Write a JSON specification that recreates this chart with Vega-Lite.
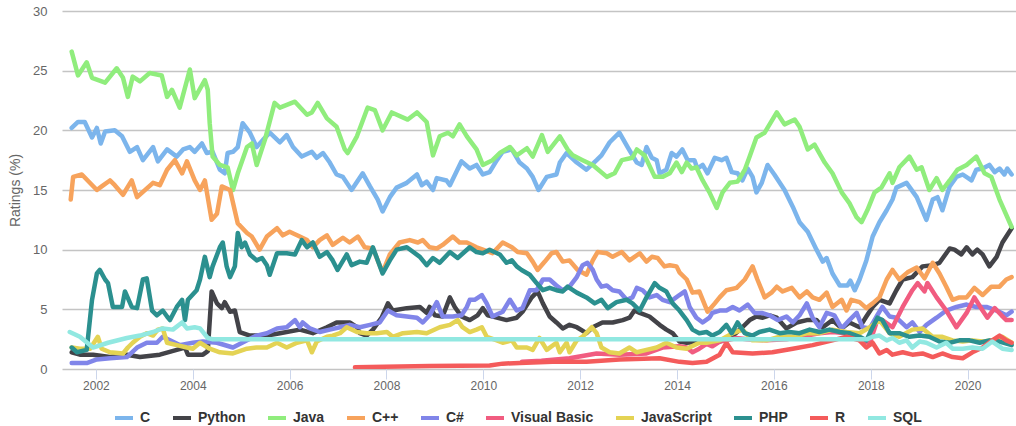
{
"$schema": "https://vega.github.io/schema/vega-lite/v6.json",
"width": 954, "height": 358,
"autosize": {"type": "none"},
"padding": {"left": 62, "top": 11, "right": 0, "bottom": 57},
"background": "white",
"config": {"view": {"stroke": null}, "font": "Liberation Sans"},
"data": {"values": [
{"l":"C","t":2001.50,"v":20.2},{"l":"C","t":2001.63,"v":20.7},{"l":"C","t":2001.77,"v":20.7},{"l":"C","t":2001.92,"v":19.4},{"l":"C","t":2002.02,"v":20.2},{"l":"C","t":2002.10,"v":18.9},{"l":"C","t":2002.19,"v":19.9},{"l":"C","t":2002.39,"v":20.0},{"l":"C","t":2002.54,"v":19.5},{"l":"C","t":2002.70,"v":18.2},{"l":"C","t":2002.85,"v":18.6},{"l":"C","t":2002.97,"v":17.5},{"l":"C","t":2003.18,"v":18.6},{"l":"C","t":2003.28,"v":17.4},{"l":"C","t":2003.47,"v":18.4},{"l":"C","t":2003.67,"v":17.8},{"l":"C","t":2003.80,"v":18.4},{"l":"C","t":2003.94,"v":18.6},{"l":"C","t":2004.04,"v":18.2},{"l":"C","t":2004.19,"v":18.9},{"l":"C","t":2004.29,"v":18.1},{"l":"C","t":2004.41,"v":18.2},{"l":"C","t":2004.56,"v":16.7},{"l":"C","t":2004.66,"v":16.4},{"l":"C","t":2004.72,"v":18.1},{"l":"C","t":2004.83,"v":18.2},{"l":"C","t":2004.93,"v":18.6},{"l":"C","t":2005.03,"v":20.6},{"l":"C","t":2005.18,"v":19.8},{"l":"C","t":2005.32,"v":18.6},{"l":"C","t":2005.45,"v":19.2},{"l":"C","t":2005.59,"v":19.8},{"l":"C","t":2005.80,"v":19.0},{"l":"C","t":2005.94,"v":19.6},{"l":"C","t":2006.07,"v":18.6},{"l":"C","t":2006.25,"v":17.8},{"l":"C","t":2006.46,"v":18.2},{"l":"C","t":2006.56,"v":17.7},{"l":"C","t":2006.69,"v":18.1},{"l":"C","t":2006.83,"v":17.3},{"l":"C","t":2006.97,"v":16.3},{"l":"C","t":2007.10,"v":16.1},{"l":"C","t":2007.28,"v":15.0},{"l":"C","t":2007.51,"v":16.4},{"l":"C","t":2007.66,"v":15.3},{"l":"C","t":2007.82,"v":14.2},{"l":"C","t":2007.92,"v":13.2},{"l":"C","t":2008.07,"v":14.4},{"l":"C","t":2008.21,"v":15.2},{"l":"C","t":2008.42,"v":15.6},{"l":"C","t":2008.63,"v":16.3},{"l":"C","t":2008.73,"v":15.4},{"l":"C","t":2008.83,"v":15.7},{"l":"C","t":2008.96,"v":15.0},{"l":"C","t":2009.04,"v":16.0},{"l":"C","t":2009.24,"v":15.8},{"l":"C","t":2009.31,"v":15.4},{"l":"C","t":2009.55,"v":17.4},{"l":"C","t":2009.72,"v":16.8},{"l":"C","t":2009.86,"v":17.1},{"l":"C","t":2009.99,"v":16.3},{"l":"C","t":2010.13,"v":16.5},{"l":"C","t":2010.28,"v":17.5},{"l":"C","t":2010.40,"v":18.2},{"l":"C","t":2010.59,"v":18.4},{"l":"C","t":2010.75,"v":17.3},{"l":"C","t":2010.90,"v":16.8},{"l":"C","t":2011.02,"v":16.1},{"l":"C","t":2011.14,"v":15.0},{"l":"C","t":2011.31,"v":16.1},{"l":"C","t":2011.51,"v":16.3},{"l":"C","t":2011.58,"v":17.3},{"l":"C","t":2011.72,"v":18.1},{"l":"C","t":2011.93,"v":17.3},{"l":"C","t":2012.13,"v":16.7},{"l":"C","t":2012.34,"v":17.5},{"l":"C","t":2012.44,"v":17.9},{"l":"C","t":2012.61,"v":19.0},{"l":"C","t":2012.81,"v":19.8},{"l":"C","t":2012.98,"v":18.6},{"l":"C","t":2013.17,"v":17.3},{"l":"C","t":2013.27,"v":17.1},{"l":"C","t":2013.37,"v":18.6},{"l":"C","t":2013.48,"v":17.7},{"l":"C","t":2013.58,"v":17.5},{"l":"C","t":2013.64,"v":16.4},{"l":"C","t":2013.78,"v":16.7},{"l":"C","t":2013.89,"v":18.1},{"l":"C","t":2013.99,"v":17.8},{"l":"C","t":2014.11,"v":18.4},{"l":"C","t":2014.22,"v":17.5},{"l":"C","t":2014.36,"v":17.5},{"l":"C","t":2014.42,"v":16.8},{"l":"C","t":2014.53,"v":17.1},{"l":"C","t":2014.63,"v":16.4},{"l":"C","t":2014.78,"v":17.7},{"l":"C","t":2014.92,"v":17.5},{"l":"C","t":2015.02,"v":17.7},{"l":"C","t":2015.13,"v":16.5},{"l":"C","t":2015.25,"v":16.4},{"l":"C","t":2015.35,"v":15.8},{"l":"C","t":2015.46,"v":16.8},{"l":"C","t":2015.56,"v":16.1},{"l":"C","t":2015.64,"v":14.8},{"l":"C","t":2015.75,"v":15.6},{"l":"C","t":2015.87,"v":17.1},{"l":"C","t":2016.01,"v":16.3},{"l":"C","t":2016.22,"v":15.0},{"l":"C","t":2016.39,"v":13.6},{"l":"C","t":2016.53,"v":12.3},{"l":"C","t":2016.70,"v":11.5},{"l":"C","t":2016.88,"v":10.0},{"l":"C","t":2017.01,"v":9.0},{"l":"C","t":2017.09,"v":9.3},{"l":"C","t":2017.21,"v":8.0},{"l":"C","t":2017.36,"v":7.0},{"l":"C","t":2017.52,"v":7.0},{"l":"C","t":2017.58,"v":7.4},{"l":"C","t":2017.67,"v":6.6},{"l":"C","t":2017.77,"v":7.5},{"l":"C","t":2017.91,"v":9.1},{"l":"C","t":2018.04,"v":11.1},{"l":"C","t":2018.18,"v":12.3},{"l":"C","t":2018.33,"v":13.3},{"l":"C","t":2018.45,"v":14.2},{"l":"C","t":2018.53,"v":15.2},{"l":"C","t":2018.74,"v":15.6},{"l":"C","t":2018.95,"v":14.4},{"l":"C","t":2019.15,"v":12.5},{"l":"C","t":2019.28,"v":14.2},{"l":"C","t":2019.38,"v":14.4},{"l":"C","t":2019.48,"v":13.3},{"l":"C","t":2019.63,"v":15.3},{"l":"C","t":2019.77,"v":16.1},{"l":"C","t":2019.90,"v":16.3},{"l":"C","t":2020.08,"v":15.8},{"l":"C","t":2020.18,"v":16.7},{"l":"C","t":2020.31,"v":16.8},{"l":"C","t":2020.45,"v":17.1},{"l":"C","t":2020.56,"v":16.5},{"l":"C","t":2020.66,"v":16.8},{"l":"C","t":2020.76,"v":16.3},{"l":"C","t":2020.82,"v":16.8},{"l":"C","t":2020.91,"v":16.3},
{"l":"Python","t":2001.50,"v":1.4},{"l":"Python","t":2001.67,"v":1.2},{"l":"Python","t":2001.94,"v":1.2},{"l":"Python","t":2002.29,"v":1.0},{"l":"Python","t":2002.64,"v":1.2},{"l":"Python","t":2002.91,"v":1.0},{"l":"Python","t":2003.32,"v":1.2},{"l":"Python","t":2003.67,"v":1.6},{"l":"Python","t":2003.84,"v":1.8},{"l":"Python","t":2003.90,"v":1.2},{"l":"Python","t":2004.21,"v":1.2},{"l":"Python","t":2004.31,"v":1.5},{"l":"Python","t":2004.39,"v":6.5},{"l":"Python","t":2004.50,"v":5.5},{"l":"Python","t":2004.60,"v":5.1},{"l":"Python","t":2004.66,"v":5.6},{"l":"Python","t":2004.77,"v":4.8},{"l":"Python","t":2004.87,"v":4.9},{"l":"Python","t":2004.97,"v":3.1},{"l":"Python","t":2005.18,"v":2.8},{"l":"Python","t":2005.53,"v":2.8},{"l":"Python","t":2005.80,"v":3.0},{"l":"Python","t":2006.21,"v":3.3},{"l":"Python","t":2006.48,"v":3.0},{"l":"Python","t":2006.77,"v":3.5},{"l":"Python","t":2006.97,"v":3.9},{"l":"Python","t":2007.24,"v":3.9},{"l":"Python","t":2007.39,"v":3.5},{"l":"Python","t":2007.45,"v":3.0},{"l":"Python","t":2007.59,"v":2.8},{"l":"Python","t":2007.72,"v":3.3},{"l":"Python","t":2007.90,"v":4.3},{"l":"Python","t":2008.03,"v":5.5},{"l":"Python","t":2008.13,"v":4.9},{"l":"Python","t":2008.42,"v":5.1},{"l":"Python","t":2008.69,"v":5.2},{"l":"Python","t":2008.83,"v":4.7},{"l":"Python","t":2008.89,"v":5.2},{"l":"Python","t":2009.00,"v":4.5},{"l":"Python","t":2009.16,"v":4.4},{"l":"Python","t":2009.31,"v":6.0},{"l":"Python","t":2009.41,"v":5.2},{"l":"Python","t":2009.55,"v":4.4},{"l":"Python","t":2009.72,"v":4.1},{"l":"Python","t":2009.88,"v":4.5},{"l":"Python","t":2009.99,"v":5.1},{"l":"Python","t":2010.09,"v":4.5},{"l":"Python","t":2010.28,"v":4.3},{"l":"Python","t":2010.48,"v":4.1},{"l":"Python","t":2010.69,"v":4.3},{"l":"Python","t":2010.81,"v":4.8},{"l":"Python","t":2011.00,"v":6.0},{"l":"Python","t":2011.12,"v":6.5},{"l":"Python","t":2011.23,"v":5.5},{"l":"Python","t":2011.37,"v":4.4},{"l":"Python","t":2011.51,"v":3.9},{"l":"Python","t":2011.64,"v":3.4},{"l":"Python","t":2011.78,"v":3.7},{"l":"Python","t":2011.93,"v":3.5},{"l":"Python","t":2012.13,"v":3.0},{"l":"Python","t":2012.26,"v":3.5},{"l":"Python","t":2012.46,"v":3.9},{"l":"Python","t":2012.67,"v":3.9},{"l":"Python","t":2012.88,"v":4.1},{"l":"Python","t":2013.02,"v":4.3},{"l":"Python","t":2013.12,"v":4.9},{"l":"Python","t":2013.23,"v":4.7},{"l":"Python","t":2013.43,"v":4.4},{"l":"Python","t":2013.64,"v":3.7},{"l":"Python","t":2013.78,"v":3.3},{"l":"Python","t":2013.91,"v":3.0},{"l":"Python","t":2014.05,"v":2.3},{"l":"Python","t":2014.20,"v":2.2},{"l":"Python","t":2014.50,"v":2.3},{"l":"Python","t":2014.80,"v":2.2},{"l":"Python","t":2015.10,"v":2.6},{"l":"Python","t":2015.35,"v":3.5},{"l":"Python","t":2015.50,"v":4.1},{"l":"Python","t":2015.64,"v":4.4},{"l":"Python","t":2015.77,"v":4.3},{"l":"Python","t":2015.91,"v":4.5},{"l":"Python","t":2016.06,"v":4.3},{"l":"Python","t":2016.26,"v":3.4},{"l":"Python","t":2016.47,"v":3.9},{"l":"Python","t":2016.68,"v":4.1},{"l":"Python","t":2016.88,"v":4.1},{"l":"Python","t":2017.01,"v":3.5},{"l":"Python","t":2017.21,"v":4.1},{"l":"Python","t":2017.40,"v":3.4},{"l":"Python","t":2017.56,"v":3.9},{"l":"Python","t":2017.77,"v":3.5},{"l":"Python","t":2017.91,"v":4.4},{"l":"Python","t":2018.04,"v":5.2},{"l":"Python","t":2018.18,"v":5.8},{"l":"Python","t":2018.39,"v":5.5},{"l":"Python","t":2018.53,"v":6.6},{"l":"Python","t":2018.66,"v":7.5},{"l":"Python","t":2018.86,"v":7.7},{"l":"Python","t":2019.07,"v":8.6},{"l":"Python","t":2019.28,"v":8.7},{"l":"Python","t":2019.42,"v":8.9},{"l":"Python","t":2019.56,"v":9.7},{"l":"Python","t":2019.63,"v":10.1},{"l":"Python","t":2019.73,"v":10.0},{"l":"Python","t":2019.87,"v":9.6},{"l":"Python","t":2019.98,"v":10.2},{"l":"Python","t":2020.10,"v":9.6},{"l":"Python","t":2020.20,"v":10.0},{"l":"Python","t":2020.31,"v":9.6},{"l":"Python","t":2020.45,"v":8.6},{"l":"Python","t":2020.60,"v":9.4},{"l":"Python","t":2020.72,"v":10.6},{"l":"Python","t":2020.91,"v":11.8},
{"l":"Java","t":2001.50,"v":26.6},{"l":"Java","t":2001.63,"v":24.6},{"l":"Java","t":2001.81,"v":25.7},{"l":"Java","t":2001.92,"v":24.4},{"l":"Java","t":2002.19,"v":24.0},{"l":"Java","t":2002.43,"v":25.2},{"l":"Java","t":2002.56,"v":24.4},{"l":"Java","t":2002.66,"v":22.8},{"l":"Java","t":2002.76,"v":24.5},{"l":"Java","t":2002.91,"v":24.1},{"l":"Java","t":2003.11,"v":24.8},{"l":"Java","t":2003.36,"v":24.6},{"l":"Java","t":2003.47,"v":22.8},{"l":"Java","t":2003.57,"v":23.4},{"l":"Java","t":2003.73,"v":21.9},{"l":"Java","t":2003.94,"v":25.1},{"l":"Java","t":2004.04,"v":22.7},{"l":"Java","t":2004.25,"v":24.2},{"l":"Java","t":2004.31,"v":23.4},{"l":"Java","t":2004.35,"v":20.6},{"l":"Java","t":2004.41,"v":17.8},{"l":"Java","t":2004.56,"v":17.1},{"l":"Java","t":2004.72,"v":16.9},{"l":"Java","t":2004.83,"v":15.0},{"l":"Java","t":2004.93,"v":16.4},{"l":"Java","t":2005.12,"v":18.6},{"l":"Java","t":2005.22,"v":18.9},{"l":"Java","t":2005.32,"v":17.1},{"l":"Java","t":2005.49,"v":19.2},{"l":"Java","t":2005.69,"v":22.3},{"l":"Java","t":2005.80,"v":21.9},{"l":"Java","t":2006.11,"v":22.4},{"l":"Java","t":2006.36,"v":21.3},{"l":"Java","t":2006.46,"v":21.5},{"l":"Java","t":2006.58,"v":22.3},{"l":"Java","t":2006.77,"v":21.0},{"l":"Java","t":2006.97,"v":20.3},{"l":"Java","t":2007.14,"v":18.4},{"l":"Java","t":2007.20,"v":18.1},{"l":"Java","t":2007.39,"v":19.5},{"l":"Java","t":2007.61,"v":21.9},{"l":"Java","t":2007.76,"v":21.7},{"l":"Java","t":2007.92,"v":20.0},{"l":"Java","t":2008.11,"v":21.5},{"l":"Java","t":2008.44,"v":20.9},{"l":"Java","t":2008.63,"v":21.5},{"l":"Java","t":2008.83,"v":20.7},{"l":"Java","t":2008.96,"v":17.9},{"l":"Java","t":2009.10,"v":19.5},{"l":"Java","t":2009.27,"v":19.8},{"l":"Java","t":2009.37,"v":19.5},{"l":"Java","t":2009.51,"v":20.5},{"l":"Java","t":2009.66,"v":19.5},{"l":"Java","t":2009.86,"v":18.4},{"l":"Java","t":2009.99,"v":17.1},{"l":"Java","t":2010.19,"v":17.5},{"l":"Java","t":2010.34,"v":18.1},{"l":"Java","t":2010.55,"v":18.6},{"l":"Java","t":2010.69,"v":17.9},{"l":"Java","t":2010.90,"v":18.5},{"l":"Java","t":2011.02,"v":17.8},{"l":"Java","t":2011.21,"v":19.6},{"l":"Java","t":2011.33,"v":18.2},{"l":"Java","t":2011.58,"v":19.5},{"l":"Java","t":2011.74,"v":18.4},{"l":"Java","t":2011.85,"v":17.9},{"l":"Java","t":2012.05,"v":17.5},{"l":"Java","t":2012.26,"v":17.1},{"l":"Java","t":2012.55,"v":16.1},{"l":"Java","t":2012.71,"v":16.4},{"l":"Java","t":2012.86,"v":17.5},{"l":"Java","t":2013.08,"v":17.7},{"l":"Java","t":2013.17,"v":18.4},{"l":"Java","t":2013.33,"v":17.9},{"l":"Java","t":2013.54,"v":16.1},{"l":"Java","t":2013.70,"v":16.1},{"l":"Java","t":2013.85,"v":16.4},{"l":"Java","t":2013.99,"v":17.3},{"l":"Java","t":2014.10,"v":16.5},{"l":"Java","t":2014.20,"v":17.3},{"l":"Java","t":2014.30,"v":16.8},{"l":"Java","t":2014.40,"v":16.9},{"l":"Java","t":2014.53,"v":15.8},{"l":"Java","t":2014.67,"v":14.8},{"l":"Java","t":2014.82,"v":13.5},{"l":"Java","t":2014.94,"v":14.8},{"l":"Java","t":2015.09,"v":15.6},{"l":"Java","t":2015.25,"v":15.7},{"l":"Java","t":2015.40,"v":16.7},{"l":"Java","t":2015.50,"v":17.8},{"l":"Java","t":2015.64,"v":19.4},{"l":"Java","t":2015.81,"v":19.8},{"l":"Java","t":2016.06,"v":21.5},{"l":"Java","t":2016.22,"v":20.5},{"l":"Java","t":2016.43,"v":20.9},{"l":"Java","t":2016.53,"v":20.3},{"l":"Java","t":2016.70,"v":18.4},{"l":"Java","t":2016.84,"v":18.8},{"l":"Java","t":2017.05,"v":17.3},{"l":"Java","t":2017.21,"v":16.4},{"l":"Java","t":2017.40,"v":14.8},{"l":"Java","t":2017.56,"v":13.9},{"l":"Java","t":2017.71,"v":12.7},{"l":"Java","t":2017.81,"v":12.3},{"l":"Java","t":2017.93,"v":13.3},{"l":"Java","t":2018.08,"v":14.8},{"l":"Java","t":2018.22,"v":15.2},{"l":"Java","t":2018.39,"v":16.4},{"l":"Java","t":2018.45,"v":15.6},{"l":"Java","t":2018.59,"v":16.9},{"l":"Java","t":2018.80,"v":17.8},{"l":"Java","t":2018.95,"v":16.7},{"l":"Java","t":2019.05,"v":16.9},{"l":"Java","t":2019.21,"v":15.0},{"l":"Java","t":2019.36,"v":16.0},{"l":"Java","t":2019.48,"v":15.0},{"l":"Java","t":2019.63,"v":15.8},{"l":"Java","t":2019.79,"v":16.7},{"l":"Java","t":2019.98,"v":17.1},{"l":"Java","t":2020.18,"v":17.8},{"l":"Java","t":2020.35,"v":16.4},{"l":"Java","t":2020.49,"v":16.1},{"l":"Java","t":2020.66,"v":14.2},{"l":"Java","t":2020.91,"v":11.9},
{"l":"C++","t":2001.48,"v":14.2},{"l":"C++","t":2001.53,"v":16.1},{"l":"C++","t":2001.71,"v":16.3},{"l":"C++","t":2001.83,"v":15.8},{"l":"C++","t":2002.02,"v":15.0},{"l":"C++","t":2002.12,"v":15.3},{"l":"C++","t":2002.29,"v":15.8},{"l":"C++","t":2002.39,"v":15.4},{"l":"C++","t":2002.56,"v":14.6},{"l":"C++","t":2002.74,"v":15.8},{"l":"C++","t":2002.85,"v":14.4},{"l":"C++","t":2003.18,"v":15.6},{"l":"C++","t":2003.32,"v":15.4},{"l":"C++","t":2003.47,"v":16.7},{"l":"C++","t":2003.63,"v":17.5},{"l":"C++","t":2003.78,"v":16.4},{"l":"C++","t":2003.88,"v":17.4},{"l":"C++","t":2004.04,"v":15.8},{"l":"C++","t":2004.15,"v":15.0},{"l":"C++","t":2004.25,"v":15.8},{"l":"C++","t":2004.39,"v":12.5},{"l":"C++","t":2004.50,"v":13.0},{"l":"C++","t":2004.60,"v":15.3},{"l":"C++","t":2004.77,"v":15.0},{"l":"C++","t":2004.93,"v":12.2},{"l":"C++","t":2005.12,"v":11.4},{"l":"C++","t":2005.22,"v":11.1},{"l":"C++","t":2005.38,"v":10.0},{"l":"C++","t":2005.53,"v":11.1},{"l":"C++","t":2005.74,"v":11.8},{"l":"C++","t":2005.86,"v":11.2},{"l":"C++","t":2006.00,"v":11.5},{"l":"C++","t":2006.21,"v":11.1},{"l":"C++","t":2006.36,"v":10.8},{"l":"C++","t":2006.48,"v":10.2},{"l":"C++","t":2006.62,"v":10.8},{"l":"C++","t":2006.77,"v":11.2},{"l":"C++","t":2006.89,"v":10.4},{"l":"C++","t":2007.10,"v":11.0},{"l":"C++","t":2007.24,"v":10.6},{"l":"C++","t":2007.41,"v":11.1},{"l":"C++","t":2007.55,"v":10.2},{"l":"C++","t":2007.72,"v":10.1},{"l":"C++","t":2007.80,"v":9.3},{"l":"C++","t":2007.92,"v":8.1},{"l":"C++","t":2008.07,"v":9.6},{"l":"C++","t":2008.27,"v":10.6},{"l":"C++","t":2008.48,"v":10.8},{"l":"C++","t":2008.65,"v":10.6},{"l":"C++","t":2008.75,"v":10.8},{"l":"C++","t":2008.89,"v":10.2},{"l":"C++","t":2009.04,"v":10.1},{"l":"C++","t":2009.16,"v":10.4},{"l":"C++","t":2009.37,"v":11.1},{"l":"C++","t":2009.51,"v":10.6},{"l":"C++","t":2009.66,"v":10.6},{"l":"C++","t":2009.86,"v":10.2},{"l":"C++","t":2009.99,"v":10.0},{"l":"C++","t":2010.19,"v":9.7},{"l":"C++","t":2010.40,"v":10.6},{"l":"C++","t":2010.59,"v":10.2},{"l":"C++","t":2010.71,"v":9.8},{"l":"C++","t":2010.90,"v":9.7},{"l":"C++","t":2011.02,"v":9.0},{"l":"C++","t":2011.12,"v":8.3},{"l":"C++","t":2011.27,"v":9.0},{"l":"C++","t":2011.41,"v":9.7},{"l":"C++","t":2011.51,"v":9.8},{"l":"C++","t":2011.64,"v":9.0},{"l":"C++","t":2011.78,"v":9.1},{"l":"C++","t":2011.95,"v":8.3},{"l":"C++","t":2012.13,"v":7.9},{"l":"C++","t":2012.26,"v":9.1},{"l":"C++","t":2012.36,"v":9.8},{"l":"C++","t":2012.55,"v":9.7},{"l":"C++","t":2012.67,"v":9.4},{"l":"C++","t":2012.86,"v":9.8},{"l":"C++","t":2013.02,"v":9.1},{"l":"C++","t":2013.23,"v":9.7},{"l":"C++","t":2013.37,"v":9.0},{"l":"C++","t":2013.48,"v":9.4},{"l":"C++","t":2013.60,"v":9.3},{"l":"C++","t":2013.74,"v":8.6},{"l":"C++","t":2013.85,"v":8.7},{"l":"C++","t":2013.99,"v":8.6},{"l":"C++","t":2014.05,"v":8.1},{"l":"C++","t":2014.20,"v":7.5},{"l":"C++","t":2014.32,"v":6.4},{"l":"C++","t":2014.46,"v":6.5},{"l":"C++","t":2014.63,"v":4.8},{"l":"C++","t":2014.78,"v":5.5},{"l":"C++","t":2014.88,"v":6.0},{"l":"C++","t":2015.02,"v":6.6},{"l":"C++","t":2015.23,"v":6.8},{"l":"C++","t":2015.40,"v":7.5},{"l":"C++","t":2015.56,"v":8.6},{"l":"C++","t":2015.66,"v":7.5},{"l":"C++","t":2015.81,"v":6.0},{"l":"C++","t":2015.95,"v":6.4},{"l":"C++","t":2016.06,"v":6.9},{"l":"C++","t":2016.18,"v":6.5},{"l":"C++","t":2016.37,"v":6.8},{"l":"C++","t":2016.53,"v":6.0},{"l":"C++","t":2016.68,"v":6.5},{"l":"C++","t":2016.80,"v":6.0},{"l":"C++","t":2016.94,"v":5.8},{"l":"C++","t":2017.09,"v":6.4},{"l":"C++","t":2017.21,"v":5.2},{"l":"C++","t":2017.40,"v":5.8},{"l":"C++","t":2017.50,"v":4.9},{"l":"C++","t":2017.60,"v":5.8},{"l":"C++","t":2017.77,"v":5.6},{"l":"C++","t":2017.91,"v":5.1},{"l":"C++","t":2018.04,"v":5.5},{"l":"C++","t":2018.18,"v":6.0},{"l":"C++","t":2018.33,"v":7.5},{"l":"C++","t":2018.45,"v":8.3},{"l":"C++","t":2018.59,"v":7.5},{"l":"C++","t":2018.76,"v":8.1},{"l":"C++","t":2018.95,"v":8.5},{"l":"C++","t":2019.11,"v":7.6},{"l":"C++","t":2019.28,"v":8.9},{"l":"C++","t":2019.42,"v":8.0},{"l":"C++","t":2019.56,"v":6.9},{"l":"C++","t":2019.69,"v":5.8},{"l":"C++","t":2019.83,"v":6.0},{"l":"C++","t":2019.98,"v":6.0},{"l":"C++","t":2020.14,"v":6.8},{"l":"C++","t":2020.31,"v":6.2},{"l":"C++","t":2020.49,"v":6.9},{"l":"C++","t":2020.66,"v":6.9},{"l":"C++","t":2020.80,"v":7.5},{"l":"C++","t":2020.91,"v":7.7},
{"l":"C#","t":2001.50,"v":0.5},{"l":"C#","t":2001.81,"v":0.5},{"l":"C#","t":2002.02,"v":0.8},{"l":"C#","t":2002.29,"v":0.9},{"l":"C#","t":2002.64,"v":1.0},{"l":"C#","t":2002.85,"v":1.8},{"l":"C#","t":2003.05,"v":2.2},{"l":"C#","t":2003.26,"v":2.2},{"l":"C#","t":2003.38,"v":2.7},{"l":"C#","t":2003.53,"v":2.4},{"l":"C#","t":2003.73,"v":2.0},{"l":"C#","t":2004.00,"v":2.2},{"l":"C#","t":2004.21,"v":2.3},{"l":"C#","t":2004.50,"v":2.2},{"l":"C#","t":2004.83,"v":1.8},{"l":"C#","t":2005.12,"v":2.4},{"l":"C#","t":2005.32,"v":2.8},{"l":"C#","t":2005.53,"v":3.0},{"l":"C#","t":2005.74,"v":3.4},{"l":"C#","t":2005.94,"v":3.5},{"l":"C#","t":2006.11,"v":4.1},{"l":"C#","t":2006.21,"v":3.5},{"l":"C#","t":2006.27,"v":3.9},{"l":"C#","t":2006.42,"v":3.4},{"l":"C#","t":2006.62,"v":3.1},{"l":"C#","t":2006.83,"v":3.3},{"l":"C#","t":2007.04,"v":3.5},{"l":"C#","t":2007.24,"v":3.7},{"l":"C#","t":2007.45,"v":3.5},{"l":"C#","t":2007.66,"v":3.7},{"l":"C#","t":2007.86,"v":3.9},{"l":"C#","t":2008.03,"v":4.9},{"l":"C#","t":2008.21,"v":4.5},{"l":"C#","t":2008.42,"v":4.4},{"l":"C#","t":2008.63,"v":4.3},{"l":"C#","t":2008.75,"v":3.9},{"l":"C#","t":2008.89,"v":4.5},{"l":"C#","t":2009.04,"v":5.6},{"l":"C#","t":2009.16,"v":4.4},{"l":"C#","t":2009.37,"v":4.4},{"l":"C#","t":2009.55,"v":4.5},{"l":"C#","t":2009.66,"v":5.2},{"l":"C#","t":2009.72,"v":5.8},{"l":"C#","t":2009.82,"v":5.8},{"l":"C#","t":2009.97,"v":6.2},{"l":"C#","t":2010.07,"v":5.5},{"l":"C#","t":2010.19,"v":4.4},{"l":"C#","t":2010.40,"v":4.8},{"l":"C#","t":2010.55,"v":5.8},{"l":"C#","t":2010.69,"v":4.9},{"l":"C#","t":2010.81,"v":5.1},{"l":"C#","t":2010.96,"v":6.6},{"l":"C#","t":2011.10,"v":6.6},{"l":"C#","t":2011.23,"v":7.5},{"l":"C#","t":2011.37,"v":7.5},{"l":"C#","t":2011.51,"v":7.0},{"l":"C#","t":2011.64,"v":6.6},{"l":"C#","t":2011.78,"v":6.9},{"l":"C#","t":2011.93,"v":7.7},{"l":"C#","t":2012.05,"v":8.7},{"l":"C#","t":2012.15,"v":8.9},{"l":"C#","t":2012.26,"v":8.3},{"l":"C#","t":2012.34,"v":7.5},{"l":"C#","t":2012.44,"v":6.9},{"l":"C#","t":2012.55,"v":7.0},{"l":"C#","t":2012.67,"v":6.6},{"l":"C#","t":2012.81,"v":6.5},{"l":"C#","t":2012.96,"v":5.8},{"l":"C#","t":2013.08,"v":6.0},{"l":"C#","t":2013.17,"v":6.8},{"l":"C#","t":2013.29,"v":6.6},{"l":"C#","t":2013.43,"v":6.0},{"l":"C#","t":2013.58,"v":6.2},{"l":"C#","t":2013.70,"v":5.8},{"l":"C#","t":2013.85,"v":5.6},{"l":"C#","t":2014.05,"v":6.2},{"l":"C#","t":2014.16,"v":6.5},{"l":"C#","t":2014.26,"v":5.2},{"l":"C#","t":2014.40,"v":4.3},{"l":"C#","t":2014.53,"v":3.9},{"l":"C#","t":2014.67,"v":4.3},{"l":"C#","t":2014.73,"v":4.7},{"l":"C#","t":2014.88,"v":4.9},{"l":"C#","t":2015.02,"v":4.9},{"l":"C#","t":2015.15,"v":5.2},{"l":"C#","t":2015.29,"v":4.9},{"l":"C#","t":2015.46,"v":5.4},{"l":"C#","t":2015.60,"v":4.7},{"l":"C#","t":2015.75,"v":4.7},{"l":"C#","t":2015.91,"v":4.5},{"l":"C#","t":2016.08,"v":4.1},{"l":"C#","t":2016.26,"v":4.4},{"l":"C#","t":2016.39,"v":3.9},{"l":"C#","t":2016.53,"v":4.5},{"l":"C#","t":2016.68,"v":5.5},{"l":"C#","t":2016.80,"v":4.3},{"l":"C#","t":2016.94,"v":3.5},{"l":"C#","t":2017.09,"v":4.7},{"l":"C#","t":2017.25,"v":4.5},{"l":"C#","t":2017.40,"v":3.4},{"l":"C#","t":2017.56,"v":4.1},{"l":"C#","t":2017.71,"v":4.7},{"l":"C#","t":2017.83,"v":3.5},{"l":"C#","t":2017.98,"v":3.4},{"l":"C#","t":2018.12,"v":4.4},{"l":"C#","t":2018.24,"v":5.2},{"l":"C#","t":2018.39,"v":4.4},{"l":"C#","t":2018.53,"v":4.3},{"l":"C#","t":2018.74,"v":3.5},{"l":"C#","t":2018.86,"v":3.9},{"l":"C#","t":2019.01,"v":3.1},{"l":"C#","t":2019.15,"v":3.7},{"l":"C#","t":2019.36,"v":4.3},{"l":"C#","t":2019.56,"v":4.9},{"l":"C#","t":2019.77,"v":5.2},{"l":"C#","t":2019.98,"v":5.4},{"l":"C#","t":2020.18,"v":5.2},{"l":"C#","t":2020.39,"v":5.2},{"l":"C#","t":2020.60,"v":4.9},{"l":"C#","t":2020.80,"v":4.5},{"l":"C#","t":2020.91,"v":4.8},
{"l":"Visual Basic","t":2010.80,"v":0.6},{"l":"Visual Basic","t":2011.20,"v":0.7},{"l":"Visual Basic","t":2011.78,"v":0.9},{"l":"Visual Basic","t":2012.34,"v":1.3},{"l":"Visual Basic","t":2012.81,"v":1.2},{"l":"Visual Basic","t":2013.37,"v":1.3},{"l":"Visual Basic","t":2013.70,"v":1.8},{"l":"Visual Basic","t":2014.05,"v":1.9},{"l":"Visual Basic","t":2014.20,"v":1.8},{"l":"Visual Basic","t":2014.32,"v":1.4},{"l":"Visual Basic","t":2014.46,"v":1.7},{"l":"Visual Basic","t":2014.61,"v":2.1},{"l":"Visual Basic","t":2014.73,"v":1.9},{"l":"Visual Basic","t":2014.88,"v":2.3},{"l":"Visual Basic","t":2015.02,"v":2.4},{"l":"Visual Basic","t":2015.23,"v":2.6},{"l":"Visual Basic","t":2015.44,"v":2.5},{"l":"Visual Basic","t":2015.85,"v":2.4},{"l":"Visual Basic","t":2016.26,"v":2.5},{"l":"Visual Basic","t":2016.68,"v":2.8},{"l":"Visual Basic","t":2016.94,"v":3.0},{"l":"Visual Basic","t":2017.21,"v":3.1},{"l":"Visual Basic","t":2017.50,"v":3.0},{"l":"Visual Basic","t":2017.77,"v":2.4},{"l":"Visual Basic","t":2017.98,"v":2.2},{"l":"Visual Basic","t":2018.12,"v":3.9},{"l":"Visual Basic","t":2018.24,"v":4.1},{"l":"Visual Basic","t":2018.45,"v":3.5},{"l":"Visual Basic","t":2018.66,"v":5.2},{"l":"Visual Basic","t":2018.86,"v":6.6},{"l":"Visual Basic","t":2018.97,"v":7.2},{"l":"Visual Basic","t":2019.11,"v":6.5},{"l":"Visual Basic","t":2019.17,"v":7.2},{"l":"Visual Basic","t":2019.36,"v":6.0},{"l":"Visual Basic","t":2019.56,"v":4.9},{"l":"Visual Basic","t":2019.77,"v":3.5},{"l":"Visual Basic","t":2019.98,"v":4.7},{"l":"Visual Basic","t":2020.14,"v":6.0},{"l":"Visual Basic","t":2020.31,"v":4.9},{"l":"Visual Basic","t":2020.41,"v":4.3},{"l":"Visual Basic","t":2020.56,"v":5.1},{"l":"Visual Basic","t":2020.70,"v":4.5},{"l":"Visual Basic","t":2020.80,"v":4.1},{"l":"Visual Basic","t":2020.91,"v":4.1},
{"l":"JavaScript","t":2001.50,"v":1.8},{"l":"JavaScript","t":2001.67,"v":1.7},{"l":"JavaScript","t":2001.88,"v":1.7},{"l":"JavaScript","t":2002.04,"v":2.7},{"l":"JavaScript","t":2002.12,"v":1.7},{"l":"JavaScript","t":2002.29,"v":1.4},{"l":"JavaScript","t":2002.56,"v":1.3},{"l":"JavaScript","t":2002.66,"v":1.8},{"l":"JavaScript","t":2002.76,"v":2.2},{"l":"JavaScript","t":2002.91,"v":2.7},{"l":"JavaScript","t":2003.05,"v":3.0},{"l":"JavaScript","t":2003.18,"v":2.8},{"l":"JavaScript","t":2003.28,"v":3.3},{"l":"JavaScript","t":2003.38,"v":3.4},{"l":"JavaScript","t":2003.47,"v":2.2},{"l":"JavaScript","t":2003.67,"v":2.0},{"l":"JavaScript","t":2003.88,"v":1.8},{"l":"JavaScript","t":2004.00,"v":1.7},{"l":"JavaScript","t":2004.15,"v":2.2},{"l":"JavaScript","t":2004.35,"v":1.7},{"l":"JavaScript","t":2004.56,"v":1.4},{"l":"JavaScript","t":2004.83,"v":1.3},{"l":"JavaScript","t":2005.12,"v":1.7},{"l":"JavaScript","t":2005.32,"v":1.8},{"l":"JavaScript","t":2005.53,"v":1.8},{"l":"JavaScript","t":2005.74,"v":2.2},{"l":"JavaScript","t":2005.94,"v":1.8},{"l":"JavaScript","t":2006.15,"v":2.2},{"l":"JavaScript","t":2006.36,"v":2.4},{"l":"JavaScript","t":2006.46,"v":1.4},{"l":"JavaScript","t":2006.56,"v":2.3},{"l":"JavaScript","t":2006.77,"v":2.7},{"l":"JavaScript","t":2006.89,"v":2.8},{"l":"JavaScript","t":2007.04,"v":3.0},{"l":"JavaScript","t":2007.18,"v":3.5},{"l":"JavaScript","t":2007.39,"v":3.1},{"l":"JavaScript","t":2007.59,"v":3.0},{"l":"JavaScript","t":2007.80,"v":3.0},{"l":"JavaScript","t":2008.01,"v":3.1},{"l":"JavaScript","t":2008.13,"v":2.7},{"l":"JavaScript","t":2008.34,"v":3.0},{"l":"JavaScript","t":2008.63,"v":3.1},{"l":"JavaScript","t":2008.83,"v":3.0},{"l":"JavaScript","t":2009.10,"v":3.5},{"l":"JavaScript","t":2009.31,"v":3.7},{"l":"JavaScript","t":2009.47,"v":4.1},{"l":"JavaScript","t":2009.57,"v":3.5},{"l":"JavaScript","t":2009.72,"v":3.1},{"l":"JavaScript","t":2009.86,"v":3.3},{"l":"JavaScript","t":2009.97,"v":3.5},{"l":"JavaScript","t":2010.07,"v":2.7},{"l":"JavaScript","t":2010.28,"v":2.4},{"l":"JavaScript","t":2010.40,"v":2.2},{"l":"JavaScript","t":2010.59,"v":2.4},{"l":"JavaScript","t":2010.69,"v":1.8},{"l":"JavaScript","t":2010.90,"v":1.8},{"l":"JavaScript","t":2011.02,"v":1.6},{"l":"JavaScript","t":2011.16,"v":2.6},{"l":"JavaScript","t":2011.31,"v":1.6},{"l":"JavaScript","t":2011.51,"v":2.2},{"l":"JavaScript","t":2011.58,"v":1.4},{"l":"JavaScript","t":2011.72,"v":2.2},{"l":"JavaScript","t":2011.78,"v":1.4},{"l":"JavaScript","t":2011.93,"v":2.4},{"l":"JavaScript","t":2012.05,"v":2.7},{"l":"JavaScript","t":2012.24,"v":3.5},{"l":"JavaScript","t":2012.34,"v":3.0},{"l":"JavaScript","t":2012.44,"v":1.8},{"l":"JavaScript","t":2012.61,"v":1.4},{"l":"JavaScript","t":2012.81,"v":1.3},{"l":"JavaScript","t":2013.02,"v":1.8},{"l":"JavaScript","t":2013.17,"v":1.4},{"l":"JavaScript","t":2013.37,"v":1.6},{"l":"JavaScript","t":2013.58,"v":1.8},{"l":"JavaScript","t":2013.78,"v":2.2},{"l":"JavaScript","t":2013.99,"v":1.8},{"l":"JavaScript","t":2014.20,"v":1.7},{"l":"JavaScript","t":2014.46,"v":2.2},{"l":"JavaScript","t":2014.61,"v":2.2},{"l":"JavaScript","t":2014.88,"v":2.4},{"l":"JavaScript","t":2015.15,"v":3.0},{"l":"JavaScript","t":2015.35,"v":3.3},{"l":"JavaScript","t":2015.56,"v":2.4},{"l":"JavaScript","t":2015.85,"v":2.4},{"l":"JavaScript","t":2016.12,"v":2.7},{"l":"JavaScript","t":2016.39,"v":2.7},{"l":"JavaScript","t":2016.68,"v":3.0},{"l":"JavaScript","t":2016.94,"v":3.0},{"l":"JavaScript","t":2017.21,"v":3.3},{"l":"JavaScript","t":2017.50,"v":3.1},{"l":"JavaScript","t":2017.77,"v":3.0},{"l":"JavaScript","t":2017.98,"v":3.5},{"l":"JavaScript","t":2018.18,"v":4.1},{"l":"JavaScript","t":2018.39,"v":3.0},{"l":"JavaScript","t":2018.59,"v":2.7},{"l":"JavaScript","t":2018.86,"v":3.3},{"l":"JavaScript","t":2019.07,"v":3.4},{"l":"JavaScript","t":2019.28,"v":2.7},{"l":"JavaScript","t":2019.48,"v":2.7},{"l":"JavaScript","t":2019.69,"v":2.4},{"l":"JavaScript","t":2019.90,"v":2.3},{"l":"JavaScript","t":2020.10,"v":2.4},{"l":"JavaScript","t":2020.31,"v":2.3},{"l":"JavaScript","t":2020.51,"v":2.4},{"l":"JavaScript","t":2020.72,"v":2.7},{"l":"JavaScript","t":2020.91,"v":2.2},
{"l":"PHP","t":2001.50,"v":1.8},{"l":"PHP","t":2001.61,"v":1.4},{"l":"PHP","t":2001.81,"v":1.6},{"l":"PHP","t":2001.92,"v":5.8},{"l":"PHP","t":2002.02,"v":8.0},{"l":"PHP","t":2002.08,"v":8.3},{"l":"PHP","t":2002.19,"v":7.5},{"l":"PHP","t":2002.25,"v":7.2},{"l":"PHP","t":2002.35,"v":5.2},{"l":"PHP","t":2002.54,"v":5.2},{"l":"PHP","t":2002.60,"v":6.5},{"l":"PHP","t":2002.74,"v":5.2},{"l":"PHP","t":2002.85,"v":5.1},{"l":"PHP","t":2002.97,"v":7.5},{"l":"PHP","t":2003.05,"v":7.6},{"l":"PHP","t":2003.16,"v":4.9},{"l":"PHP","t":2003.26,"v":4.5},{"l":"PHP","t":2003.38,"v":4.9},{"l":"PHP","t":2003.47,"v":4.4},{"l":"PHP","t":2003.53,"v":4.1},{"l":"PHP","t":2003.67,"v":5.2},{"l":"PHP","t":2003.78,"v":5.8},{"l":"PHP","t":2003.84,"v":4.1},{"l":"PHP","t":2003.90,"v":5.8},{"l":"PHP","t":2004.08,"v":6.6},{"l":"PHP","t":2004.15,"v":7.5},{"l":"PHP","t":2004.25,"v":9.4},{"l":"PHP","t":2004.35,"v":7.7},{"l":"PHP","t":2004.41,"v":8.6},{"l":"PHP","t":2004.56,"v":10.2},{"l":"PHP","t":2004.62,"v":10.6},{"l":"PHP","t":2004.70,"v":8.6},{"l":"PHP","t":2004.77,"v":7.7},{"l":"PHP","t":2004.87,"v":8.6},{"l":"PHP","t":2004.93,"v":11.4},{"l":"PHP","t":2005.01,"v":10.2},{"l":"PHP","t":2005.08,"v":10.6},{"l":"PHP","t":2005.18,"v":9.6},{"l":"PHP","t":2005.32,"v":9.1},{"l":"PHP","t":2005.43,"v":9.3},{"l":"PHP","t":2005.53,"v":8.7},{"l":"PHP","t":2005.59,"v":7.9},{"l":"PHP","t":2005.74,"v":9.7},{"l":"PHP","t":2005.94,"v":9.7},{"l":"PHP","t":2006.11,"v":9.6},{"l":"PHP","t":2006.25,"v":10.8},{"l":"PHP","t":2006.36,"v":10.2},{"l":"PHP","t":2006.48,"v":10.6},{"l":"PHP","t":2006.62,"v":9.4},{"l":"PHP","t":2006.77,"v":9.8},{"l":"PHP","t":2006.89,"v":9.1},{"l":"PHP","t":2006.99,"v":8.3},{"l":"PHP","t":2007.18,"v":9.6},{"l":"PHP","t":2007.28,"v":8.7},{"l":"PHP","t":2007.45,"v":9.0},{"l":"PHP","t":2007.59,"v":8.9},{"l":"PHP","t":2007.72,"v":10.2},{"l":"PHP","t":2007.92,"v":8.0},{"l":"PHP","t":2008.07,"v":9.1},{"l":"PHP","t":2008.21,"v":10.0},{"l":"PHP","t":2008.42,"v":10.2},{"l":"PHP","t":2008.69,"v":9.4},{"l":"PHP","t":2008.83,"v":8.7},{"l":"PHP","t":2008.96,"v":9.3},{"l":"PHP","t":2009.10,"v":8.9},{"l":"PHP","t":2009.31,"v":9.8},{"l":"PHP","t":2009.47,"v":9.3},{"l":"PHP","t":2009.72,"v":10.2},{"l":"PHP","t":2009.86,"v":9.8},{"l":"PHP","t":2009.99,"v":9.7},{"l":"PHP","t":2010.13,"v":10.0},{"l":"PHP","t":2010.34,"v":9.6},{"l":"PHP","t":2010.48,"v":8.9},{"l":"PHP","t":2010.59,"v":9.1},{"l":"PHP","t":2010.69,"v":8.6},{"l":"PHP","t":2010.79,"v":8.3},{"l":"PHP","t":2010.96,"v":7.9},{"l":"PHP","t":2011.10,"v":7.2},{"l":"PHP","t":2011.23,"v":6.6},{"l":"PHP","t":2011.37,"v":6.8},{"l":"PHP","t":2011.51,"v":6.6},{"l":"PHP","t":2011.64,"v":6.5},{"l":"PHP","t":2011.74,"v":6.9},{"l":"PHP","t":2011.93,"v":6.4},{"l":"PHP","t":2012.13,"v":6.0},{"l":"PHP","t":2012.30,"v":5.5},{"l":"PHP","t":2012.44,"v":5.8},{"l":"PHP","t":2012.57,"v":5.1},{"l":"PHP","t":2012.75,"v":5.6},{"l":"PHP","t":2012.96,"v":5.8},{"l":"PHP","t":2013.08,"v":5.5},{"l":"PHP","t":2013.23,"v":4.9},{"l":"PHP","t":2013.37,"v":6.0},{"l":"PHP","t":2013.54,"v":7.2},{"l":"PHP","t":2013.64,"v":6.8},{"l":"PHP","t":2013.78,"v":6.5},{"l":"PHP","t":2013.91,"v":5.5},{"l":"PHP","t":2014.05,"v":4.9},{"l":"PHP","t":2014.20,"v":4.1},{"l":"PHP","t":2014.32,"v":3.3},{"l":"PHP","t":2014.46,"v":3.0},{"l":"PHP","t":2014.61,"v":3.1},{"l":"PHP","t":2014.73,"v":2.8},{"l":"PHP","t":2014.88,"v":3.1},{"l":"PHP","t":2015.02,"v":3.7},{"l":"PHP","t":2015.13,"v":3.0},{"l":"PHP","t":2015.25,"v":3.9},{"l":"PHP","t":2015.40,"v":3.0},{"l":"PHP","t":2015.56,"v":2.8},{"l":"PHP","t":2015.70,"v":3.1},{"l":"PHP","t":2015.91,"v":3.3},{"l":"PHP","t":2016.12,"v":3.0},{"l":"PHP","t":2016.32,"v":3.1},{"l":"PHP","t":2016.53,"v":3.0},{"l":"PHP","t":2016.74,"v":3.3},{"l":"PHP","t":2016.94,"v":3.1},{"l":"PHP","t":2017.15,"v":3.3},{"l":"PHP","t":2017.36,"v":3.1},{"l":"PHP","t":2017.56,"v":3.0},{"l":"PHP","t":2017.77,"v":2.7},{"l":"PHP","t":2017.91,"v":2.4},{"l":"PHP","t":2018.04,"v":3.5},{"l":"PHP","t":2018.14,"v":4.3},{"l":"PHP","t":2018.24,"v":4.1},{"l":"PHP","t":2018.39,"v":3.0},{"l":"PHP","t":2018.59,"v":3.0},{"l":"PHP","t":2018.80,"v":2.7},{"l":"PHP","t":2019.01,"v":2.8},{"l":"PHP","t":2019.21,"v":2.7},{"l":"PHP","t":2019.42,"v":2.3},{"l":"PHP","t":2019.63,"v":2.2},{"l":"PHP","t":2019.83,"v":2.4},{"l":"PHP","t":2020.04,"v":2.4},{"l":"PHP","t":2020.25,"v":2.2},{"l":"PHP","t":2020.45,"v":2.4},{"l":"PHP","t":2020.66,"v":2.3},{"l":"PHP","t":2020.91,"v":2.0},
{"l":"R","t":2007.35,"v":0.15},{"l":"R","t":2008.89,"v":0.25},{"l":"R","t":2010.13,"v":0.3},{"l":"R","t":2010.40,"v":0.45},{"l":"R","t":2010.75,"v":0.5},{"l":"R","t":2011.43,"v":0.6},{"l":"R","t":2012.13,"v":0.6},{"l":"R","t":2012.81,"v":0.8},{"l":"R","t":2013.64,"v":0.9},{"l":"R","t":2014.05,"v":0.6},{"l":"R","t":2014.32,"v":0.5},{"l":"R","t":2014.61,"v":0.6},{"l":"R","t":2014.88,"v":1.2},{"l":"R","t":2015.02,"v":2.2},{"l":"R","t":2015.15,"v":1.4},{"l":"R","t":2015.56,"v":1.3},{"l":"R","t":2015.97,"v":1.4},{"l":"R","t":2016.39,"v":1.7},{"l":"R","t":2016.80,"v":2.0},{"l":"R","t":2017.21,"v":2.4},{"l":"R","t":2017.50,"v":2.7},{"l":"R","t":2017.77,"v":2.4},{"l":"R","t":2017.91,"v":1.8},{"l":"R","t":2018.04,"v":2.2},{"l":"R","t":2018.18,"v":1.3},{"l":"R","t":2018.33,"v":1.6},{"l":"R","t":2018.45,"v":1.2},{"l":"R","t":2018.66,"v":1.4},{"l":"R","t":2018.86,"v":1.2},{"l":"R","t":2019.07,"v":1.3},{"l":"R","t":2019.28,"v":1.0},{"l":"R","t":2019.48,"v":1.3},{"l":"R","t":2019.69,"v":1.0},{"l":"R","t":2019.90,"v":0.9},{"l":"R","t":2020.10,"v":1.4},{"l":"R","t":2020.31,"v":1.8},{"l":"R","t":2020.51,"v":2.4},{"l":"R","t":2020.66,"v":2.8},{"l":"R","t":2020.80,"v":2.4},{"l":"R","t":2020.91,"v":2.2},
{"l":"SQL","t":2001.46,"v":3.1},{"l":"SQL","t":2001.67,"v":2.7},{"l":"SQL","t":2001.94,"v":1.8},{"l":"SQL","t":2002.25,"v":2.2},{"l":"SQL","t":2002.64,"v":2.6},{"l":"SQL","t":2002.91,"v":2.8},{"l":"SQL","t":2003.18,"v":3.1},{"l":"SQL","t":2003.38,"v":3.4},{"l":"SQL","t":2003.59,"v":3.3},{"l":"SQL","t":2003.78,"v":3.9},{"l":"SQL","t":2003.88,"v":3.4},{"l":"SQL","t":2004.04,"v":3.5},{"l":"SQL","t":2004.15,"v":3.4},{"l":"SQL","t":2004.31,"v":2.6},{"l":"SQL","t":2004.40,"v":2.5},{"l":"SQL","t":2017.93,"v":2.5},{"l":"SQL","t":2018.04,"v":2.7},{"l":"SQL","t":2018.18,"v":2.8},{"l":"SQL","t":2018.33,"v":2.4},{"l":"SQL","t":2018.45,"v":2.6},{"l":"SQL","t":2018.59,"v":2.2},{"l":"SQL","t":2018.74,"v":2.4},{"l":"SQL","t":2018.86,"v":1.8},{"l":"SQL","t":2019.01,"v":2.3},{"l":"SQL","t":2019.15,"v":2.2},{"l":"SQL","t":2019.36,"v":1.8},{"l":"SQL","t":2019.56,"v":2.2},{"l":"SQL","t":2019.69,"v":1.7},{"l":"SQL","t":2019.90,"v":1.7},{"l":"SQL","t":2020.10,"v":1.8},{"l":"SQL","t":2020.31,"v":1.7},{"l":"SQL","t":2020.51,"v":2.3},{"l":"SQL","t":2020.72,"v":1.7},{"l":"SQL","t":2020.91,"v":1.6}
]},
"mark": {"type": "line", "strokeWidth": 4.5, "strokeJoin": "round", "strokeCap": "round", "clip": true},
"encoding": {
  "x": {"field": "t", "type": "quantitative",
    "scale": {"domain": [2001.3, 2021.0], "nice": false, "zero": false},
    "axis": {"values": [2002,2004,2006,2008,2010,2012,2014,2016,2018,2020], "format": "d", "title": null, "grid": false, "domain": false,
      "tickColor": "#ccd6eb", "tickSize": 10, "tickWidth": 1, "labelColor": "#666666", "labelFontSize": 12, "labelPadding": 1}},
  "y": {"field": "v", "type": "quantitative",
    "scale": {"domain": [0, 30], "nice": false},
    "axis": {"values": [0,5,10,15,20,25,30], "title": "Ratings (%)", "grid": true, "gridColor": "#c4c4c4", "gridWidth": 1.5, "domain": false, "ticks": false,
      "labelPadding": 15, "labelColor": "#666666", "labelFontSize": 13,
      "titleColor": "#666666", "titleFontSize": 14, "titleFontWeight": "normal", "titleX": -40}},
  "color": {"field": "l", "type": "nominal",
    "scale": {"domain": ["C","Python","Java","C++","C#","Visual Basic","JavaScript","PHP","R","SQL"],
      "range": ["#7cb5ec","#434348","#90ed7d","#f7a35c","#8085e9","#f15c80","#e4d354","#2b908f","#f45b5b","#91e8e1"]},
    "legend": {"orient": "none", "legendX": 51, "legendY": 396, "direction": "horizontal", "title": null, "gridAlign": "none",
      "symbolType": "stroke", "symbolSize": 324, "symbolStrokeWidth": 4, "labelFontWeight": "bold", "labelFontSize": 14,
      "labelColor": "#333333", "columnPadding": 14, "labelOffset": 5}}
}
}
